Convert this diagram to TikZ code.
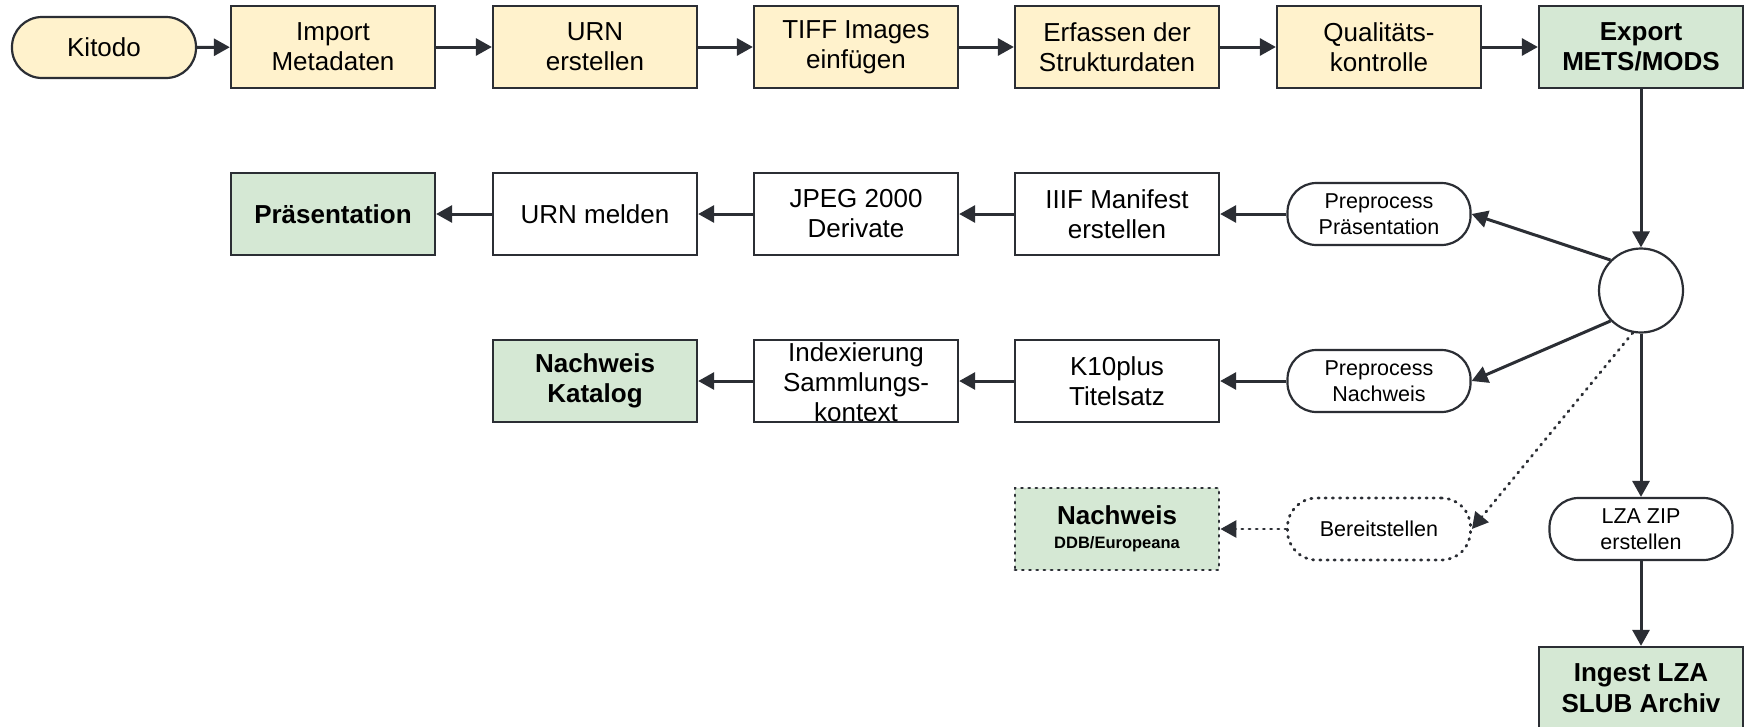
\documentclass[tikz,border=0pt]{standalone}
\usepackage{fontspec}
\setmainfont{Liberation Sans}
\usetikzlibrary{arrows.meta}
\definecolor{yel}{HTML}{FFF2CC}
\definecolor{grn}{HTML}{D5E8D4}
\definecolor{ln}{HTML}{2B2E34}
\begin{document}
\begin{tikzpicture}[x=1pt,y=-1pt,
  box/.style={draw=ln, line width=2.3pt, minimum width=204pt, minimum height=82pt, inner sep=0pt, align=center, font=\fontsize{26}{30}\selectfont},
  ybox/.style={box, fill=yel},
  gbox/.style={box, fill=grn, font=\fontsize{26}{30}\selectfont\bfseries},
  wbox/.style={box, fill=white},
  pill/.style={draw=ln, line width=2.2pt, fill=white, rounded corners=29pt, minimum width=183pt, minimum height=62pt, inner sep=0pt, align=center, font=\fontsize{21.5}{25.5}\selectfont},
  arr/.style={draw=ln, line width=3pt, -{Triangle[length=16pt,width=17pt]}},
  dotline/.style={line width=2.8pt, dash pattern=on 1.2pt off 6pt, line cap=round}
]
\clip (0,0) rectangle (1744,726);
\fill[white] (0,0) rectangle (1744,726);
% row 1
\node[pill, fill=yel, minimum width=184pt, minimum height=61pt, rounded corners=30pt, font=\fontsize{26}{30}\selectfont] (kit) at (104,47.5) {Kitodo};
\node[ybox] (imp) at (333,47) {Import\\Metadaten};
\node[ybox] (urn) at (595,47) {URN\\erstellen};
\node[ybox] (tiff) at (856,47) {TIFF Images\\einfügen};
\node[ybox] (erf) at (1117,47) {Erfassen der\\Strukturdaten};
\node[ybox] (qk) at (1379,47) {Qualitäts-\\kontrolle};
\node[gbox] (exp) at (1641,47) {Export\\METS/MODS};
% circle
\node[draw=ln, line width=2.2pt, circle, minimum size=84pt, inner sep=0pt, fill=white] (circ) at (1641,290.5) {};
% row 2
\node[gbox] (pres) at (333,214) {Präsentation};
\node[wbox] (urnm) at (595,214) {URN melden};
\node[wbox] (jpeg) at (856,214) {JPEG 2000\\Derivate};
\node[wbox] (iiif) at (1117,214) {IIIF Manifest\\erstellen};
\node[pill] (pp) at (1379,214) {Preprocess\\Präsentation};
% row 3
\node[gbox] (nk) at (595,381) {Nachweis\\Katalog};
\node[wbox] (idx) at (856,381) {};
\node[align=center, font=\fontsize{26}{30}\selectfont, inner sep=0pt] (idxt) at (856,382) {Indexierung\\Sammlungs-\\kontext};
\node[wbox] (k10) at (1117,381) {K10plus\\Titelsatz};
\node[pill] (pn) at (1379,381) {Preprocess\\Nachweis};
% row 4
\node[gbox, dotline] (ddb) at (1117,529) {Nachweis\\[-6pt]{\fontsize{16.5}{20}\selectfont DDB/Europeana}};
\node[pill, dotline] (ber) at (1379,529) {Bereitstellen};
\node[pill] (lza) at (1641,529) {LZA ZIP\\erstellen};
\node[gbox, font=\fontsize{26}{31}\selectfont\bfseries] (ing) at (1641,688) {Ingest LZA\\SLUB Archiv};
% edges
\draw[arr] (kit) -- (imp);
\draw[arr] (imp) -- (urn);
\draw[arr] (urn) -- (tiff);
\draw[arr] (tiff) -- (erf);
\draw[arr] (erf) -- (qk);
\draw[arr] (qk) -- (exp);
\draw[arr] (exp) -- (circ);
\draw[arr] (circ.135) -- (pp.east);
\draw[arr] (pp) -- (iiif);
\draw[arr] (iiif) -- (jpeg);
\draw[arr] (jpeg) -- (urnm);
\draw[arr] (urnm) -- (pres);
\draw[arr] (circ.-135) -- (pn.east);
\draw[arr] (pn) -- (k10);
\draw[arr] (k10) -- (idx);
\draw[arr] (idx) -- (nk);
\draw[arr, dotline] (circ.-101) -- (ber.east);
\draw[arr, dotline] (ber) -- (ddb);
\draw[arr] (circ) -- (lza);
\draw[arr] (lza) -- (ing);
\end{tikzpicture}
\end{document}
